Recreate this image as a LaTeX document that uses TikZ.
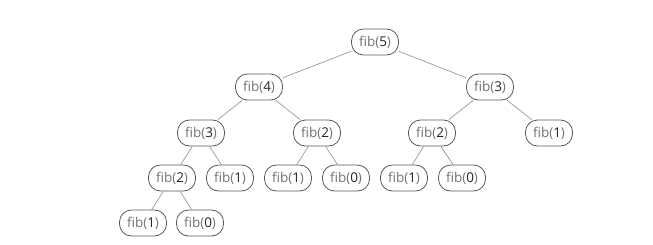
\documentclass[tikz,border=0pt]{standalone}
\usepackage{fontspec}
\setmainfont{Open Sans}
\newcommand{\fib}[1]{{\color{black!55}fib(}{\color{black!85}#1}{\color{black!55})}}

\begin{document}
\begin{tikzpicture}[x=1pt, y=-1pt,
    appel/.style={draw=black!65, line width=0.8pt, rounded corners=12pt,
        minimum width=47pt, minimum height=26pt, inner sep=2pt,
        font=\fontsize{13.5}{15}\selectfont},
    lien/.style={draw=black!40, line width=0.7pt}]
        \useasboundingbox (0,0) rectangle (653,244);
        % Racine
        \node[appel] (f5) at (375,42) {\fib{5}};
        % Niveau 1
        \node[appel] (f4) at (259,87) {\fib{4}};
        \node[appel] (f3b) at (490,87) {\fib{3}};
        % Niveau 2
        \node[appel] (f3a) at (201,133) {\fib{3}};
        \node[appel] (f2a) at (317,133) {\fib{2}};
        \node[appel] (f2b) at (432,133) {\fib{2}};
        \node[appel] (f1a) at (549,133) {\fib{1}};
        % Niveau 3
        \node[appel] (f2c) at (172,178) {\fib{2}};
        \node[appel] (f1b) at (230,178) {\fib{1}};
        \node[appel] (f1c) at (288,178) {\fib{1}};
        \node[appel] (f0a) at (346,178) {\fib{0}};
        \node[appel] (f1d) at (404,178) {\fib{1}};
        \node[appel] (f0b) at (462,178) {\fib{0}};
        % Niveau 4
        \node[appel] (f1e) at (143,223) {\fib{1}};
        \node[appel] (f0c) at (200,223) {\fib{0}};
        % Appels
        \draw[lien] (f5) -- (f4);
        \draw[lien] (f5) -- (f3b);
        \draw[lien] (f4) -- (f3a);
        \draw[lien] (f4) -- (f2a);
        \draw[lien] (f3b) -- (f2b);
        \draw[lien] (f3b) -- (f1a);
        \draw[lien] (f3a) -- (f2c);
        \draw[lien] (f3a) -- (f1b);
        \draw[lien] (f2a) -- (f1c);
        \draw[lien] (f2a) -- (f0a);
        \draw[lien] (f2b) -- (f1d);
        \draw[lien] (f2b) -- (f0b);
        \draw[lien] (f2c) -- (f1e);
        \draw[lien] (f2c) -- (f0c);
    \end{tikzpicture}
\end{document}
